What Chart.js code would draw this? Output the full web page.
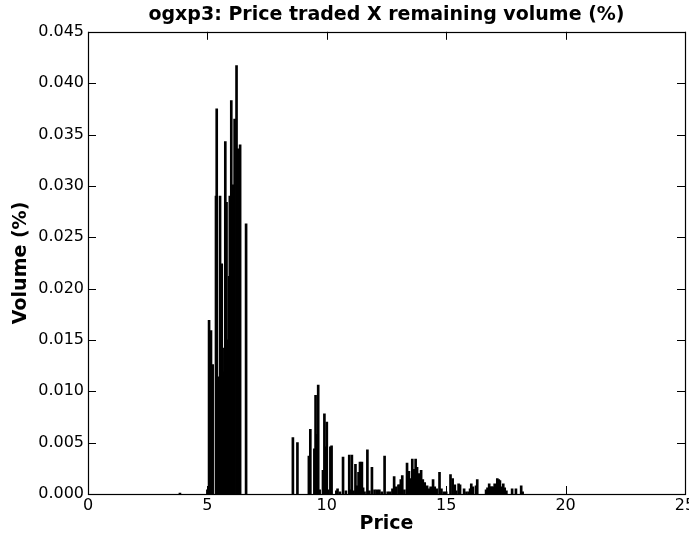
<!DOCTYPE html>
<html>
<head>
<meta charset="utf-8">
<script src="https://cdn.jsdelivr.net/npm/chart.js@4"></script>
<style>
  html, body { margin:0; padding:0; background:#fff; }
  #wrap { width:689px; height:535px; }
</style>
</head>
<body>
<div id="wrap"><canvas id="volChart" width="689" height="535"></canvas></div>
<script>
// ----- Data -----
const prices = [
  3.85, 5.00, 5.07, 5.10, 5.15, 5.22, 5.36, 5.39, 5.46, 5.53, 5.60, 5.67, 5.71, 5.75, 5.80, 5.84,
  5.91, 5.94, 6.00, 6.08, 6.14, 6.22, 6.28, 6.31, 6.37, 6.62,
  8.58, 8.77, 9.25, 9.31, 9.48, 9.53, 9.59, 9.64, 9.70, 9.84, 9.90, 9.95, 10.00, 10.06, 10.15, 10.20,
  10.40, 10.45, 10.55, 10.68, 10.80, 10.94, 11.00, 11.05, 11.12, 11.20, 11.25, 11.33, 11.39, 11.47,
  11.52, 11.58, 11.70, 11.78, 11.89, 12.00, 12.10, 12.20, 12.30, 12.42, 12.55, 12.65, 12.75, 12.82,
  12.90, 13.00, 13.05, 13.10, 13.16, 13.25, 13.36, 13.44, 13.50, 13.58, 13.64, 13.72, 13.78, 13.85,
  13.95, 14.02, 14.10, 14.20, 14.27, 14.35, 14.45, 14.52, 14.60, 14.72, 14.80, 14.90, 15.00, 15.18,
  15.27, 15.36, 15.42, 15.52, 15.58, 15.75, 15.85, 15.95, 16.00, 16.05, 16.12, 16.25, 16.30, 16.67,
  16.73, 16.80, 16.85, 16.90, 16.96, 17.03, 17.08, 17.14, 17.20, 17.25, 17.32, 17.39, 17.45, 17.52,
  17.76, 17.92, 18.14, 18.20
];
const volumes = [
  0.0001, 0.0004, 0.0169, 0.0106, 0.0159, 0.0126, 0.0290, 0.0375, 0.0114, 0.0290, 0.0224, 0.0119, 0.0142, 0.0343, 0.0284, 0.0150,
  0.0212, 0.0290, 0.0383, 0.0301, 0.0365, 0.0417, 0.0336, 0.0222, 0.0340, 0.0263,
  0.0055, 0.0050, 0.0037, 0.0063, 0.0044, 0.0096, 0.0058, 0.0106, 0.0004, 0.0023, 0.0078, 0.0046, 0.0070, 0.0004, 0.0046, 0.0047,
  0.0003, 0.0005, 0.0002, 0.0036, 0.0003, 0.0038, 0.0004, 0.0038, 0.0003, 0.0029, 0.0008, 0.0021, 0.0031, 0.0031,
  0.0006, 0.0002, 0.0043, 0.0003, 0.0026, 0.0004, 0.0004, 0.0004, 0.0002, 0.0037, 0.0002, 0.0002, 0.0005, 0.0017,
  0.0007, 0.0009, 0.0009, 0.0014, 0.0018, 0.0004, 0.0030, 0.0022, 0.0015, 0.0034, 0.0024, 0.0034, 0.0026, 0.0020,
  0.0023, 0.0014, 0.0011, 0.0008, 0.0005, 0.0007, 0.0014, 0.0007, 0.0005, 0.0021, 0.0005, 0.0002, 0.0002, 0.0019,
  0.0015, 0.0009, 0.0003, 0.0010, 0.0009, 0.0005, 0.0002, 0.0002, 0.0005, 0.0010, 0.0007, 0.0008, 0.0014, 0.0004,
  0.0006, 0.0010, 0.0007, 0.0007, 0.0007, 0.0010, 0.0009, 0.0015, 0.0014, 0.0013, 0.0007, 0.0010, 0.0006, 0.0003,
  0.0005, 0.0005, 0.0008, 0.0002
];
const xTicks = [0, 5, 10, 15, 20, 25];
const yTicks = [0, 0.005, 0.010, 0.015, 0.020, 0.025, 0.030, 0.035, 0.040, 0.045];

const FONT = "'DejaVu Sans', sans-serif";

// ----- matplotlib-like frame with inward ticks -----
const frameTicks = {
  id: 'frameTicks',
  afterDraw(chart){
    const {ctx, chartArea:a, scales} = chart;
    ctx.save();
    ctx.strokeStyle = '#000';
    ctx.lineWidth = 1;
    xTicks.forEach(v=>{
      const px = Math.round(scales.x.getPixelForValue(v)) + 0.5;
      ctx.beginPath();
      ctx.moveTo(px, a.bottom); ctx.lineTo(px, a.bottom - 8);
      ctx.moveTo(px, a.top); ctx.lineTo(px, a.top + 8);
      ctx.stroke();
    });
    yTicks.forEach(v=>{
      const py = Math.round(scales.y.getPixelForValue(v)) + 0.5;
      ctx.beginPath();
      ctx.moveTo(a.left, py); ctx.lineTo(a.left + 8, py);
      ctx.moveTo(a.right, py); ctx.lineTo(a.right - 8, py);
      ctx.stroke();
    });
    ctx.lineWidth = 1.2;
    ctx.strokeRect(Math.round(a.left)+0.5, Math.round(a.top)+0.5, Math.round(a.right-a.left), Math.round(a.bottom-a.top));
    ctx.restore();
  }
};

// ----- Chart -----
const points = prices.map((p,i)=>({x:p, y:volumes[i]}));

new Chart(document.getElementById('volChart'), {
  type: 'bar',
  data: { datasets: [{ data: points, backgroundColor: '#000', borderWidth: 0, barThickness: 2 }] },
  options: {
    responsive: false,
    animation: false,
    devicePixelRatio: 1,
    layout: { padding: { left: 0, right: 4, top: 0, bottom: 0 } },
    plugins: {
      legend: { display: false },
      tooltip: { enabled: false },
      title: {
        display: true,
        fullSize: false,
        text: 'ogxp3: Price traded X remaining volume (%)',
        color: '#000',
        font: { family: FONT, size: 19, weight: 'bold' },
        padding: { top: 4, bottom: 5 }
      }
    },
    scales: {
      x: {
        type: 'linear', min: 0, max: 25, offset: false,
        grid: { display: false, drawTicks: false, tickLength: 0 }, border: { display: false },
        afterBuildTicks: s => { s.ticks = xTicks.map(v=>({value:v})); },
        afterFit: s => { s.height = 41; s.paddingRight = 0; s.paddingLeft = 0; },
        ticks: { color: '#000', font: { family: FONT, size: 16 }, padding: 2, maxRotation: 0,
                 callback: v => String(v) },
        title: { display: true, text: 'Price', color: '#000', padding: { top: 0, bottom: 0 },
                 font: { family: FONT, size: 19, weight: 'bold' } }
      },
      y: {
        min: 0, max: 0.045,
        grid: { display: false, drawTicks: false, tickLength: 0 }, border: { display: false },
        afterBuildTicks: s => { s.ticks = yTicks.map(v=>({value:v})); },
        afterFit: s => { s.width = 88; },
        ticks: { color: '#000', font: { family: FONT, size: 16 }, padding: 4,
                 callback: v => v.toFixed(3) },
        title: { display: true, text: 'Volume (%)', color: '#000', padding: { top: 10, bottom: 0 },
                 font: { family: FONT, size: 19, weight: 'bold' } }
      }
    }
  },
  plugins: [frameTicks]
});
</script>
</body>
</html>
